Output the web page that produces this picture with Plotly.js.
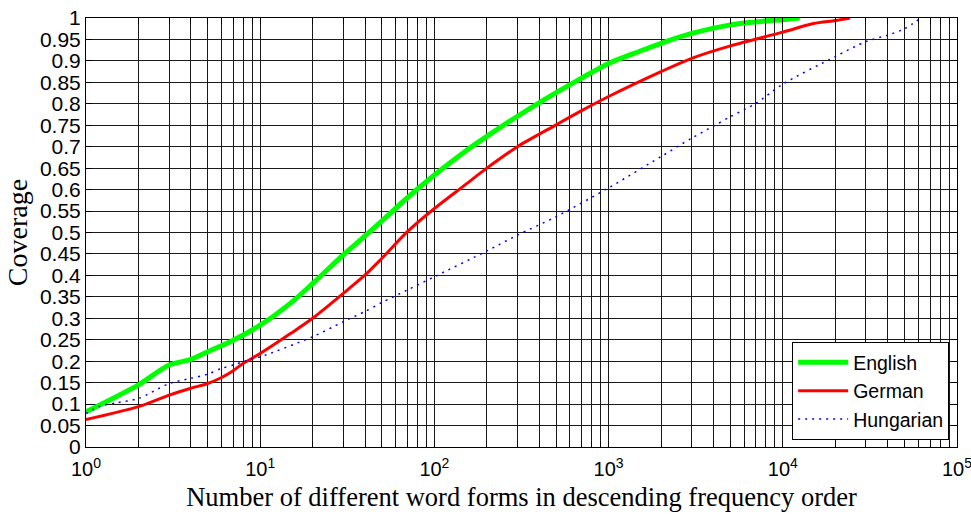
<!DOCTYPE html>
<html>
<head>
<meta charset="utf-8">
<script src="https://cdn.plot.ly/plotly-3.0.1.min.js"></script>
<style>
  html, body { margin: 0; padding: 0; background: #fff; }
  #chart { width: 971px; height: 514px; }
</style>
</head>
<body>
<div id="chart"></div>
<script>
// ---- Data ----
const englishX = [1, 2, 3, 4, 5, 7, 10, 15, 20, 30, 40, 50, 70, 100, 150, 200, 300, 500, 700, 1000, 1500, 2000, 3000, 5000, 7000, 10000, 12500];
const englishY = [0.082, 0.145, 0.191, 0.204, 0.222, 0.249, 0.284, 0.336, 0.381, 0.448, 0.492, 0.527, 0.581, 0.634, 0.689, 0.724, 0.771, 0.826, 0.860, 0.894, 0.922, 0.941, 0.964, 0.984, 0.991, 0.996, 1.0];

const germanX = [1, 2, 3, 4, 5, 6, 7, 8, 10, 15, 20, 30, 40, 50, 70, 100, 150, 200, 300, 500, 700, 1000, 2000, 3000, 5000, 10000, 15000, 20000, 24300];
const germanY = [0.064, 0.094, 0.121, 0.137, 0.148, 0.162, 0.178, 0.195, 0.218, 0.265, 0.300, 0.358, 0.401, 0.440, 0.502, 0.556, 0.611, 0.650, 0.700, 0.751, 0.784, 0.817, 0.875, 0.906, 0.935, 0.967, 0.987, 0.994, 1.0];

const hungarianX = [1, 1.2, 1.5, 2, 3, 4, 5, 6, 7, 8, 10, 20, 30, 40, 50, 70, 100, 200, 300, 500, 1000, 2000, 3000, 4000, 5000, 7000, 10000, 20000, 30000, 40000, 50000, 62000];
const hungarianY = [0.078, 0.095, 0.103, 0.113, 0.148, 0.160, 0.170, 0.183, 0.191, 0.199, 0.210, 0.257, 0.292, 0.316, 0.337, 0.366, 0.397, 0.457, 0.494, 0.537, 0.604, 0.677, 0.720, 0.748, 0.770, 0.801, 0.846, 0.910, 0.945, 0.960, 0.975, 1.0];

const seriesNames = ['English', 'German', 'Hungarian'];

// Tick labels
const decadeValues = [1, 10, 100, 1000, 10000, 100000];
const decadeLabels = ['10<sup>0</sup>', '10<sup>1</sup>', '10<sup>2</sup>', '10<sup>3</sup>', '10<sup>4</sup>', '10<sup>5</sup>'];
const minorMultipliers = [2, 3, 4, 5, 6, 7, 8, 9];

// build tick arrays (major decades labelled, in-between digits unlabelled)
const xTickVals = [];
const xTickText = [];
decadeValues.forEach((d, i) => {
  xTickVals.push(d); xTickText.push(decadeLabels[i]);
  if (i < decadeValues.length - 1) {
    minorMultipliers.forEach(m => { xTickVals.push(m * d); xTickText.push(''); });
  }
});

const traces = [
  { x: englishX, y: englishY, name: seriesNames[0], mode: 'lines', type: 'scatter',
    line: { color: '#00ff00', width: 5, shape: 'spline', smoothing: 0.8 } },
  { x: germanX, y: germanY, name: seriesNames[1], mode: 'lines', type: 'scatter',
    line: { color: '#ff0000', width: 3, shape: 'spline', smoothing: 0.8 } },
  { x: hungarianX, y: hungarianY, name: seriesNames[2], mode: 'lines', type: 'scatter',
    line: { color: '#0000ff', width: 1.5, dash: '2px,5px', shape: 'spline', smoothing: 0.8 } }
];

const tickFont = { family: 'Liberation Sans, Arial, sans-serif', size: 21, color: '#000' };

const layout = {
  width: 971, height: 514,
  margin: { l: 86, r: 14, t: 18, b: 67 },
  paper_bgcolor: '#fff', plot_bgcolor: '#fff',
  showlegend: true,
  xaxis: {
    type: 'log', range: [0, 5],
    tickmode: 'array', tickvals: xTickVals, ticktext: xTickText,
    ticks: 'inside', ticklen: 6, tickcolor: '#000', tickwidth: 1,
    showgrid: true, gridcolor: '#1a1a1a', gridwidth: 1,
    showline: true, linecolor: '#000', linewidth: 1, mirror: 'allticks',
    zeroline: false, tickfont: { family: 'Liberation Sans, Arial, sans-serif', size: 20, color: '#000' },
    ticklabeloverflow: 'allow', ticklabelstandoff: 4,
    title: { text: 'Number of different word forms in descending frequency order',
             font: { family: 'Liberation Serif, Times New Roman, serif', size: 26.5, color: '#000' }, standoff: 8 }
  },
  yaxis: {
    range: [0, 1], tickmode: 'linear', tick0: 0, dtick: 0.05,
    ticks: 'inside', ticklen: 6, tickcolor: '#000', tickwidth: 1,
    showgrid: true, gridcolor: '#1a1a1a', gridwidth: 1,
    showline: true, linecolor: '#000', linewidth: 1, mirror: 'allticks',
    zeroline: false, tickfont: tickFont,
    title: { text: 'Coverage',
             font: { family: 'Liberation Serif, Times New Roman, serif', size: 28, color: '#000' }, standoff: 4 }
  },
  legend: {
    x: 0.991, xanchor: 'right', y: 0.016, yanchor: 'bottom',
    bgcolor: '#fff', bordercolor: '#000', borderwidth: 1,
    font: { family: 'Liberation Sans, Arial, sans-serif', size: 19.5, color: '#000' },
    itemwidth: 50
  }
};

Plotly.newPlot('chart', traces, layout, { displayModeBar: false, staticPlot: true });
</script>
</body>
</html>
